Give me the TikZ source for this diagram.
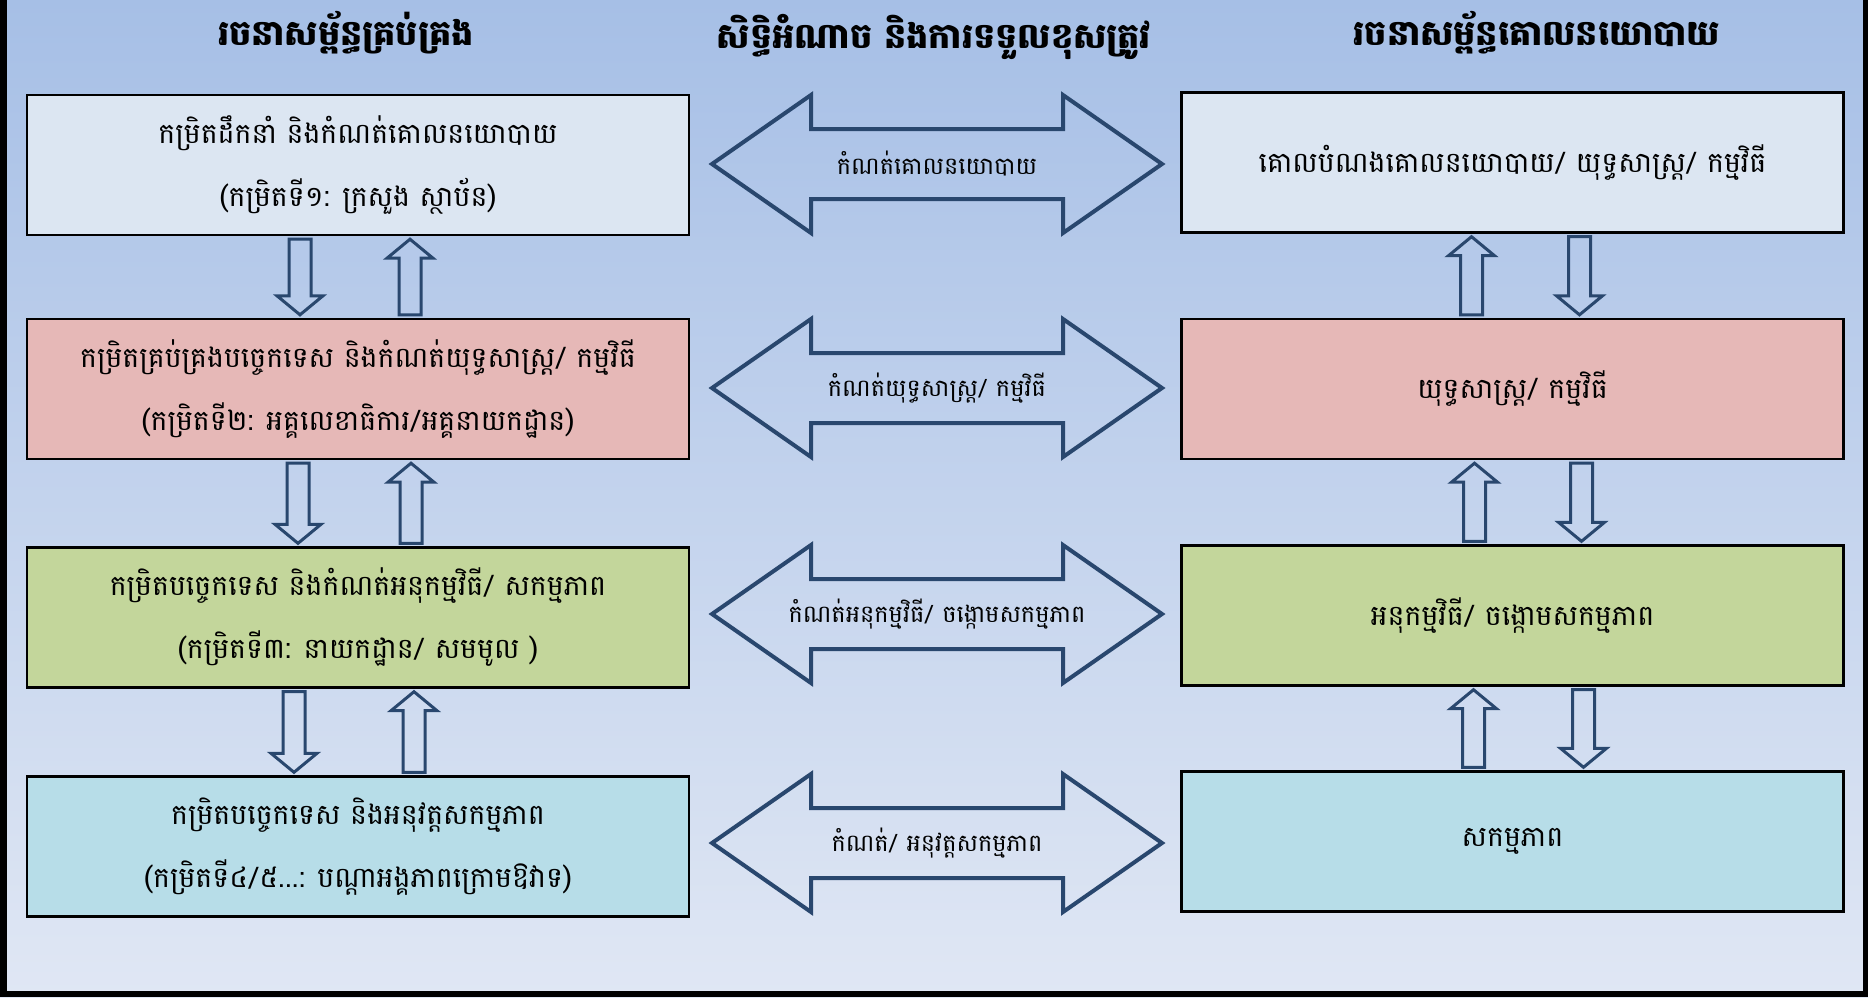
\documentclass[tikz,border=0pt]{standalone}
\usepackage{fontspec}
\newfontfamily\kh[Script=Khmer]{Battambang}
\usetikzlibrary{calc}
\definecolor{bgtop}{RGB}{166,191,230}
\definecolor{bgbot}{RGB}{224,231,244}
\definecolor{arrc}{RGB}{41,71,110}
\definecolor{fone}{RGB}{220,230,242}
\definecolor{ftwo}{RGB}{230,184,183}
\definecolor{fthree}{RGB}{195,214,155}
\definecolor{ffour}{RGB}{183,221,232}
\newcommand\dnarr[3]{% x offset, upper node, lower node
  \draw[smallarr] let \p1=($(#2.south)+(#1,3)$), \p2=($(#3.north)+(#1,-3)$) in
    ($(\p1)+(-11,0)$) -- ($(\p1)+(11,0)$) -- ($(\p2)+(11,-19)$) -- ($(\p2)+(23,-19)$)
    -- (\p2) -- ($(\p2)+(-23,-19)$) -- ($(\p2)+(-11,-19)$) -- cycle;}
\newcommand\uparr[3]{% x offset, upper node, lower node
  \draw[smallarr] let \p1=($(#2.south)+(#1,3)$), \p2=($(#3.north)+(#1,-3)$) in
    (\p1) -- ($(\p1)+(23,19)$) -- ($(\p1)+(11,19)$) -- ($(\p2)+(11,0)$)
    -- ($(\p2)+(-11,0)$) -- ($(\p1)+(-11,19)$) -- ($(\p1)+(-23,19)$) -- cycle;}
\begin{document}
\begin{tikzpicture}[x=0.5pt,y=-0.5pt,
  box/.style={draw=black,line width=1.2pt,minimum width=331pt,minimum height=70pt,
    inner sep=0pt,align=center,font=\kh\fontsize{14.2}{31.5}\selectfont},
  ttl/.style={font=\kh\bfseries\fontsize{17.5}{22}\selectfont,inner sep=0pt},
  lbl/.style={font=\kh\fontsize{12}{14}\selectfont,inner sep=0pt},
  bigarr/.style={draw=arrc,line width=2pt,miter limit=10},
  smallarr/.style={draw=arrc,line width=1.5pt}]
\useasboundingbox (0,0) rectangle (1868,997);
\shade[top color=bgtop,bottom color=bgbot] (0,0) rectangle (1868,997);
\fill[black] (0,0) rectangle (7,997);
\fill[black] (1863,0) rectangle (1868,997);
\fill[black] (0,991) rectangle (1868,997);
% titles
\node[ttl] (T1) at (346,33) {រចនាសម្ព័ន្ធគ្រប់គ្រង};
\node[ttl] (T2) at (934,37) {សិទ្ធិអំណាច និងការទទួលខុសត្រូវ};
\node[ttl] (T3) at (1537,33) {រចនាសម្ព័ន្ធគោលនយោបាយ};
% left boxes
\node[box,fill=fone] (L1) at (358,165) {កម្រិតដឹកនាំ និងកំណត់គោលនយោបាយ\\(កម្រិតទី១: ក្រសួង ស្ថាប័ន)};
\node[box,fill=ftwo] (L2) at (358,389) {កម្រិតគ្រប់គ្រងបច្ចេកទេស និងកំណត់យុទ្ធសាស្ត្រ/ កម្មវិធី\\(កម្រិតទី២: អគ្គលេខាធិការ/អគ្គនាយកដ្ឋាន)};
\node[box,fill=fthree] (L3) at (358,617.5) {កម្រិតបច្ចេកទេស និងកំណត់អនុកម្មវិធី/ សកម្មភាព\\(កម្រិតទី៣: នាយកដ្ឋាន/ សមមូល )};
\node[box,fill=ffour] (L4) at (358,846.5) {កម្រិតបច្ចេកទេស និងអនុវត្តសកម្មភាព\\(កម្រិតទី៤/៥...: បណ្តាអង្គភាពក្រោមឱវាទ)};
% right boxes
\node[box,fill=fone] (R1) at (1512.5,162.5) {គោលបំណងគោលនយោបាយ/ យុទ្ធសាស្ត្រ/ កម្មវិធី};
\node[box,fill=ftwo] (R2) at (1512.5,389) {យុទ្ធសាស្ត្រ/ កម្មវិធី};
\node[box,fill=fthree] (R3) at (1512.5,615.5) {អនុកម្មវិធី/ ចង្កោមសកម្មភាព};
\node[box,fill=ffour] (R4) at (1512.5,841.5) {សកម្មភាព};
% double arrows
\foreach \n/\yy/\t in {A1/164/{កំណត់គោលនយោបាយ},A2/388/{កំណត់យុទ្ធសាស្ត្រ/ កម្មវិធី},
    A3/614/{កំណត់អនុកម្មវិធី/ ចង្កោមសកម្មភាព},A4/843/{កំណត់/ អនុវត្តសកម្មភាព}}{
  \node[lbl] (\n) at (937,\yy) {\t};
  \draw[bigarr,shift={(\n.center)}] (-225,0) -- (-126,-69) -- (-126,-35) -- (126,-35)
    -- (126,-69) -- (225,0) -- (126,69) -- (126,35) -- (-126,35) -- (-126,69) -- cycle;
}
% small arrows left
\dnarr{-58}{L1}{L2} \uparr{52}{L1}{L2}
\dnarr{-60}{L2}{L3} \uparr{53}{L2}{L3}
\dnarr{-64}{L3}{L4} \uparr{56}{L3}{L4}
% small arrows right
\uparr{-41}{R1}{R2} \dnarr{67}{R1}{R2}
\uparr{-38}{R2}{R3} \dnarr{69}{R2}{R3}
\uparr{-39}{R3}{R4} \dnarr{71}{R3}{R4}
\end{tikzpicture}
\end{document}
